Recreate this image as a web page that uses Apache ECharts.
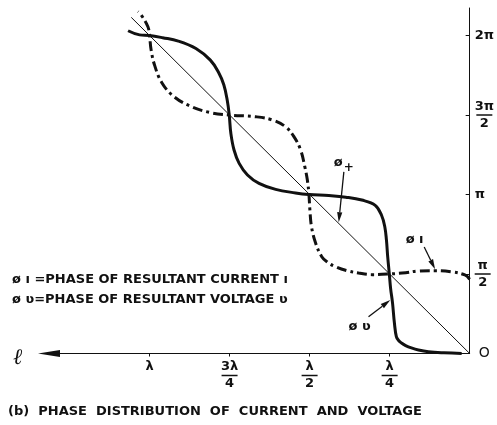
<!DOCTYPE html>
<html>
<head>
<meta charset="utf-8">
<script src="https://cdn.jsdelivr.net/npm/echarts@6/dist/echarts.min.js"></script>
<style>
  html, body { margin: 0; padding: 0; background: #fff; }
  #chart { width: 497px; height: 425px; }
</style>
</head>
<body>
<div id="chart"></div>
<script>
// Length along the line ℓ is in wavelengths (λ); phase is in units of π.

// Phase of the travelling wave, ø+ (straight line)
const travellingPhase = [[0, 0], [1.057, 2.114]];

// Phase of the resultant voltage, ø v
const voltagePhase = [
  [0.025, 0.0], [0.08, 0.004], [0.129, 0.011], [0.16, 0.022], [0.182, 0.035],
  [0.2, 0.05], [0.213, 0.066], [0.222, 0.082], [0.229, 0.106], [0.235, 0.19],
  [0.241, 0.318], [0.247, 0.41], [0.251, 0.5], [0.256, 0.607], [0.26, 0.714],
  [0.265, 0.796], [0.275, 0.868], [0.295, 0.932], [0.337, 0.965], [0.387, 0.983],
  [0.44, 0.993], [0.502, 1.0], [0.544, 1.01], [0.606, 1.032], [0.658, 1.07],
  [0.694, 1.123], [0.72, 1.196], [0.736, 1.28], [0.746, 1.385], [0.751, 1.5],
  [0.757, 1.59], [0.768, 1.69], [0.785, 1.77], [0.81, 1.845], [0.855, 1.918],
  [0.91, 1.965], [0.959, 1.986], [1.0, 2.0], [1.031, 2.004], [1.067, 2.03]
];

// Phase of the resultant current, ø ı
const currentPhase = [
  [0.0, 0.467], [0.015, 0.494], [0.058, 0.514], [0.108, 0.521], [0.16, 0.519],
  [0.2, 0.508], [0.251, 0.5], [0.305, 0.496], [0.347, 0.506], [0.385, 0.522],
  [0.419, 0.546], [0.445, 0.575], [0.462, 0.609], [0.481, 0.693], [0.494, 0.797],
  [0.499, 0.9], [0.502, 1.0], [0.507, 1.091], [0.515, 1.175], [0.528, 1.28],
  [0.549, 1.364], [0.575, 1.426], [0.617, 1.469], [0.668, 1.489], [0.751, 1.5],
  [0.81, 1.515], [0.872, 1.555], [0.925, 1.618], [0.962, 1.705], [0.984, 1.812],
  [0.995, 1.909], [1.0, 2.0], [1.005, 2.055], [1.026, 2.129], [1.036, 2.15]
];

// Axis ticks and their labels (fractions as [numerator, denominator])
const xTickValues = [0.25, 0.5, 0.75, 1];
const xTickText = [['λ', '4'], ['λ', '2'], ['3λ', '4'], ['λ']];
const yTickValues = [0, 0.5, 1, 1.5, 2];
const yTickText = [['O'], ['π', '2'], ['π'], ['3π', '2'], ['2π']];

// Leader arrows [ℓ from, phase from, ℓ to, phase to] and their labels
const arrowLines = [
  [0.393, 1.142, 0.409, 0.826],
  [0.142, 0.67, 0.108, 0.53],
  [0.316, 0.231, 0.248, 0.336]
];
const curveLabels = [
  [0.393, 1.2, '{a|ø}{s|+}'],
  [0.172, 0.716, '{a|ø ı}'],
  [0.344, 0.17, '{a|ø ʋ}']
];

const INK = '#111';
const FONT = 'DejaVu Sans';

const fracRich = {
  n: { fontFamily: FONT, fontSize: 13, fontWeight: 'bold', color: INK, lineHeight: 13, align: 'center' },
  bar: { width: 16, height: 1.5, lineHeight: 4, backgroundColor: INK, align: 'center' },
  o: { fontFamily: FONT, fontSize: 14, color: INK, lineHeight: 14, padding: [0, 0, 0, 4] }
};

function tickLabel(values, texts, v) {
  const i = values.findIndex(t => Math.abs(t - v) < 1e-6);
  if (i < 0) return '';
  const t = texts[i];
  if (t[0] === 'O') return '{o|O}';
  if (t.length === 1) return '{n|' + t[0] + '}';
  return '{n|' + t[0] + '}\n{bar|}\n{n|' + t[1] + '}';
}

const chart = echarts.init(document.getElementById('chart'), null, { renderer: 'canvas' });

chart.setOption({
  animation: false,
  backgroundColor: '#fff',
  grid: { left: 49, right: 25.5, top: 8, bottom: 71.5 },
  xAxis: {
    type: 'value',
    inverse: true,
    min: 0,
    max: 1.314,
    interval: 0.25,
    splitLine: { show: false },
    axisLine: {
      onZero: false,
      lineStyle: { color: INK, width: 1 },
      symbol: ['triangle', 'none'],
      symbolSize: [7, 22]
    },
    axisTick: {
      customValues: xTickValues,
      length: 3,
      lineStyle: { color: INK, width: 1 }
    },
    axisLabel: {
      customValues: xTickValues,
      margin: 7,
      formatter: v => tickLabel(xTickValues, xTickText, v),
      rich: fracRich
    }
  },
  yAxis: {
    type: 'value',
    position: 'right',
    min: 0,
    max: 2.173,
    interval: 0.5,
    splitLine: { show: false },
    axisLine: { show: true, onZero: false, lineStyle: { color: INK, width: 1 } },
    axisTick: {
      customValues: [0.5, 1, 1.5, 2],
      inside: true,
      length: 4,
      lineStyle: { color: INK, width: 1 }
    },
    axisLabel: {
      customValues: yTickValues,
      margin: 5,
      formatter: v => tickLabel(yTickValues, yTickText, v),
      rich: fracRich
    }
  },
  series: [
    {
      type: 'line',
      data: travellingPhase,
      showSymbol: false,
      lineStyle: { color: INK, width: 1 },
      silent: true
    },
    {
      type: 'line',
      data: voltagePhase,
      smooth: 0.4,
      showSymbol: false,
      lineStyle: { color: INK, width: 3 },
      silent: true
    },
    {
      type: 'line',
      data: currentPhase,
      smooth: 0.4,
      showSymbol: false,
      lineStyle: { color: INK, width: 3, type: [10, 4, 3, 4] },
      silent: true
    },
    {
      type: 'custom',
      data: arrowLines,
      encode: { x: [0, 2], y: [1, 3] },
      silent: true,
      renderItem: (params, api) => {
        const a = api.coord([api.value(0), api.value(1)]);
        const b = api.coord([api.value(2), api.value(3)]);
        const dx = b[0] - a[0], dy = b[1] - a[1];
        const len = Math.hypot(dx, dy);
        const ux = dx / len, uy = dy / len;
        const L = 10, W = 2.6;
        const base = [b[0] - ux * L, b[1] - uy * L];
        return {
          type: 'group',
          children: [
            { type: 'line', shape: { x1: a[0], y1: a[1], x2: base[0], y2: base[1] },
              style: { stroke: INK, lineWidth: 1.3 } },
            { type: 'polygon',
              shape: { points: [b, [base[0] - uy * W, base[1] + ux * W], [base[0] + uy * W, base[1] - ux * W]] },
              style: { fill: INK } }
          ]
        };
      }
    },
    {
      type: 'custom',
      data: curveLabels,
      encode: { x: 0, y: 1 },
      silent: true,
      renderItem: (params, api) => {
        const p = api.coord([api.value(0), api.value(1)]);
        return {
          type: 'text',
          x: p[0], y: p[1],
          style: {
            text: curveLabels[params.dataIndex][2],
            align: 'center', verticalAlign: 'middle',
            rich: {
              a: { fontFamily: FONT, fontSize: 13, fill: INK, fontWeight: 'bold' },
              s: { fontFamily: FONT, fontSize: 12, fill: INK, fontWeight: 'bold', padding: [10, 0, 0, 1] }
            }
          }
        };
      }
    }
  ],
  graphic: [
    {
      type: 'text', left: 13, top: 198 + 149, silent: true,
      style: { text: 'ℓ', font: 'italic 22px "DejaVu Serif"', fill: INK }
    },
    {
      type: 'text', left: 12, top: 273, silent: true,
      style: { text: 'ø ı =PHASE OF RESULTANT CURRENT ı', font: 'bold 13px "DejaVu Sans"', fill: INK }
    },
    {
      type: 'text', left: 12, top: 293, silent: true,
      style: { text: 'ø ʋ=PHASE OF RESULTANT VOLTAGE ʋ', font: 'bold 13px "DejaVu Sans"', fill: INK }
    },
    {
      type: 'text', left: 8, top: 405, silent: true,
      style: { text: '(b)  PHASE  DISTRIBUTION  OF  CURRENT  AND  VOLTAGE', font: 'bold 13px "DejaVu Sans"', fill: INK }
    }
  ]
});
</script>
</body>
</html>
